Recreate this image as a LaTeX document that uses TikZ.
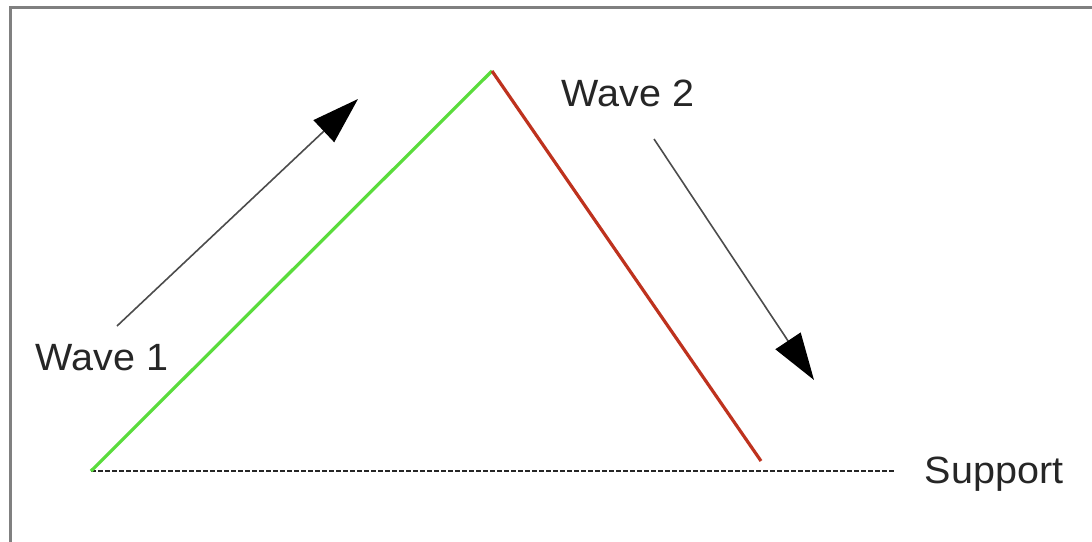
\documentclass[tikz,border=0pt]{standalone}
\usepackage{fontspec}
\setmainfont{Liberation Sans}
\usetikzlibrary{arrows.meta}
\begin{document}
\begin{tikzpicture}[x=1pt,y=-1pt,
  frame/.style={draw=black!50, line width=3pt},
  upwave/.style={draw={rgb,255:red,90;green,220;blue,60}, line width=3.2pt},
  downwave/.style={draw={rgb,255:red,190;green,50;blue,30}, line width=3.2pt},
  supportline/.style={draw=black!85, line width=1.5pt, dash pattern=on 4.5pt off 2.5pt},
  trend/.style={draw=black!70, line width=1.6pt, -{Triangle[length=47pt,width=30pt,color=black,fill=black]}},
  lab/.style={font=\fontsize{38}{40}\selectfont, text=black!85, inner sep=0pt, xscale=1.04}]
\useasboundingbox (0,0) rectangle (1092,541);
\fill[white] (0,0) rectangle (1092,541);
% frame (left and top edges visible)
\coordinate (fbl) at (10,545);
\coordinate (ftl) at (10,7);
\coordinate (ftr) at (1096,7);
\draw[frame] (fbl) -- (ftl) -- (ftr);
% wave points
\coordinate (start) at (91,471);
\coordinate (peak) at (492,71);
\coordinate (low) at (761,461);
\coordinate (supend) at (895,471);
\draw[supportline] (start) -- (supend);
\draw[upwave] (start) -- (peak);
\draw[downwave] (peak) -- (low);
% trend arrows
\coordinate (a1s) at (117,326);
\coordinate (a1e) at (358,99);
\coordinate (a2s) at (654,139);
\coordinate (a2e) at (814,380);
\draw[trend] (a1s) -- (a1e);
\draw[trend] (a2s) -- (a2e);
% labels
\node[lab] (w1) at (102,358) {Wave 1};
\node[lab] (w2) at (628,93) {Wave 2};
\node[lab, anchor=base] (sup) at (994,483) {Support};
\end{tikzpicture}
\end{document}
